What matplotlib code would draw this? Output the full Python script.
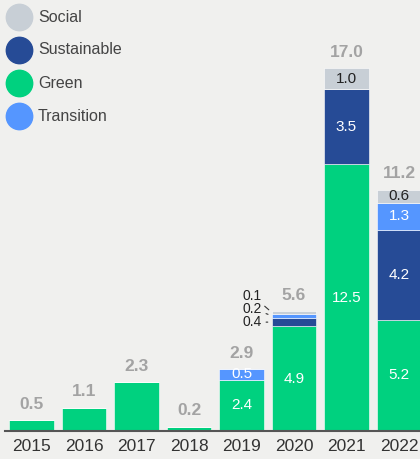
import matplotlib
matplotlib.use("Agg")
import matplotlib.pyplot as plt
import numpy as np
from matplotlib.lines import Line2D

plt.rcParams["font.family"] = ["Liberation Sans", "DejaVu Sans"]

# --- data ---
years = ["2015", "2016", "2017", "2018", "2019", "2020", "2021", "2022"]
green = [0.5, 1.1, 2.3, 0.2, 2.4, 4.9, 12.5, 5.2]
sustainable = [0, 0, 0, 0, 0, 0.4, 3.5, 4.2]
transition = [0, 0, 0, 0, 0.5, 0.2, 0, 1.3]
social = [0, 0, 0, 0, 0, 0.1, 1.0, 0.6]
totals = ["0.5", "1.1", "2.3", "0.2", "2.9", "5.6", "17.0", "11.2"]

legend_names = ["Social", "Sustainable", "Green", "Transition"]

BG = "#f0f0ee"
C_GREEN = "#00d17f"
C_SUST = "#264b96"
C_TRANS = "#5596ff"
C_SOCIAL = "#c8cfd6"
colors = {"Social": C_SOCIAL, "Sustainable": C_SUST,
          "Green": C_GREEN, "Transition": C_TRANS}

W, H = 420, 459
fig = plt.figure(figsize=(W / 100, H / 100), dpi=100, facecolor=BG)
ax = fig.add_axes([0, 28 / H, 1, 431 / H])
ax.set_facecolor(BG)

x = np.arange(len(years))
width = 0.84
stack = [("Green", green), ("Sustainable", sustainable),
         ("Transition", transition), ("Social", social)]

bottom = np.zeros(len(years))
segments = []
for name, vals in stack:
    vals = np.array(vals, dtype=float)
    ax.bar(x, vals, width, bottom=bottom, color=colors[name],
           edgecolor="white", linewidth=0.4, zorder=2)
    segments.append((name, vals, bottom.copy()))
    bottom = bottom + vals

# in-bar labels (2019 onwards, except the thin 2020 slices)
for name, vals, bot in segments:
    for i, v in enumerate(vals):
        if v <= 0 or i < 4:
            continue
        if i == 5 and name != "Green":
            continue
        txt_color = "#222222" if name == "Social" else "white"
        ax.text(x[i], bot[i] + v / 2, f"{v:.1f}", ha="center", va="center",
                color=txt_color, fontsize=11)

# leader labels for the thin 2020 slices
i20 = years.index("2020")
left = x[i20] - width / 2
offs = {"Sustainable": 0, "Transition": 7, "Social": 17}
for name, vals, bot in segments:
    if name == "Green":
        continue
    v = vals[i20]
    ax.annotate(f"{v:.1f}", xy=(left, bot[i20] + v / 2),
                xytext=(-10, offs[name]), textcoords="offset pixels",
                ha="right", va="center", fontsize=10, color="#222222",
                arrowprops=dict(arrowstyle="-", color="#333333", lw=0.8,
                                shrinkA=1, shrinkB=3))

# totals above bars
for i, t in enumerate(totals):
    ax.annotate(t, xy=(x[i], bottom[i]), xytext=(0, 6),
                textcoords="offset points", ha="center", va="bottom",
                fontsize=12.5, fontweight="bold", color="#a3a3a3")

ax.set_xlim(-0.6, 7.4)
ax.set_ylim(0, 20.19)
ax.set_yticks([])
ax.set_xticks(x)
ax.set_xticklabels(years, fontsize=12.5, color="#333333")
ax.tick_params(axis="x", length=0, pad=6)
for s in ["top", "right", "left"]:
    ax.spines[s].set_visible(False)
ax.spines["bottom"].set_color("#555555")
ax.spines["bottom"].set_linewidth(1.5)
ax.spines["bottom"].set_bounds(-0.505, 7.4)
ax.spines["bottom"].set_zorder(3)

# legend: circles + labels at the top left
for k, name in enumerate(legend_names):
    yf = 1 - (17 + 33 * k) / H
    fig.add_artist(Line2D([18.5 / W], [yf], marker="o", markersize=19,
                          color=colors[name], linestyle="none",
                          transform=fig.transFigure))
    fig.text(38 / W, yf, name, fontsize=11.5, color="#444444",
             va="center", ha="left")

fig.savefig("out.png", dpi=100, facecolor=BG)
